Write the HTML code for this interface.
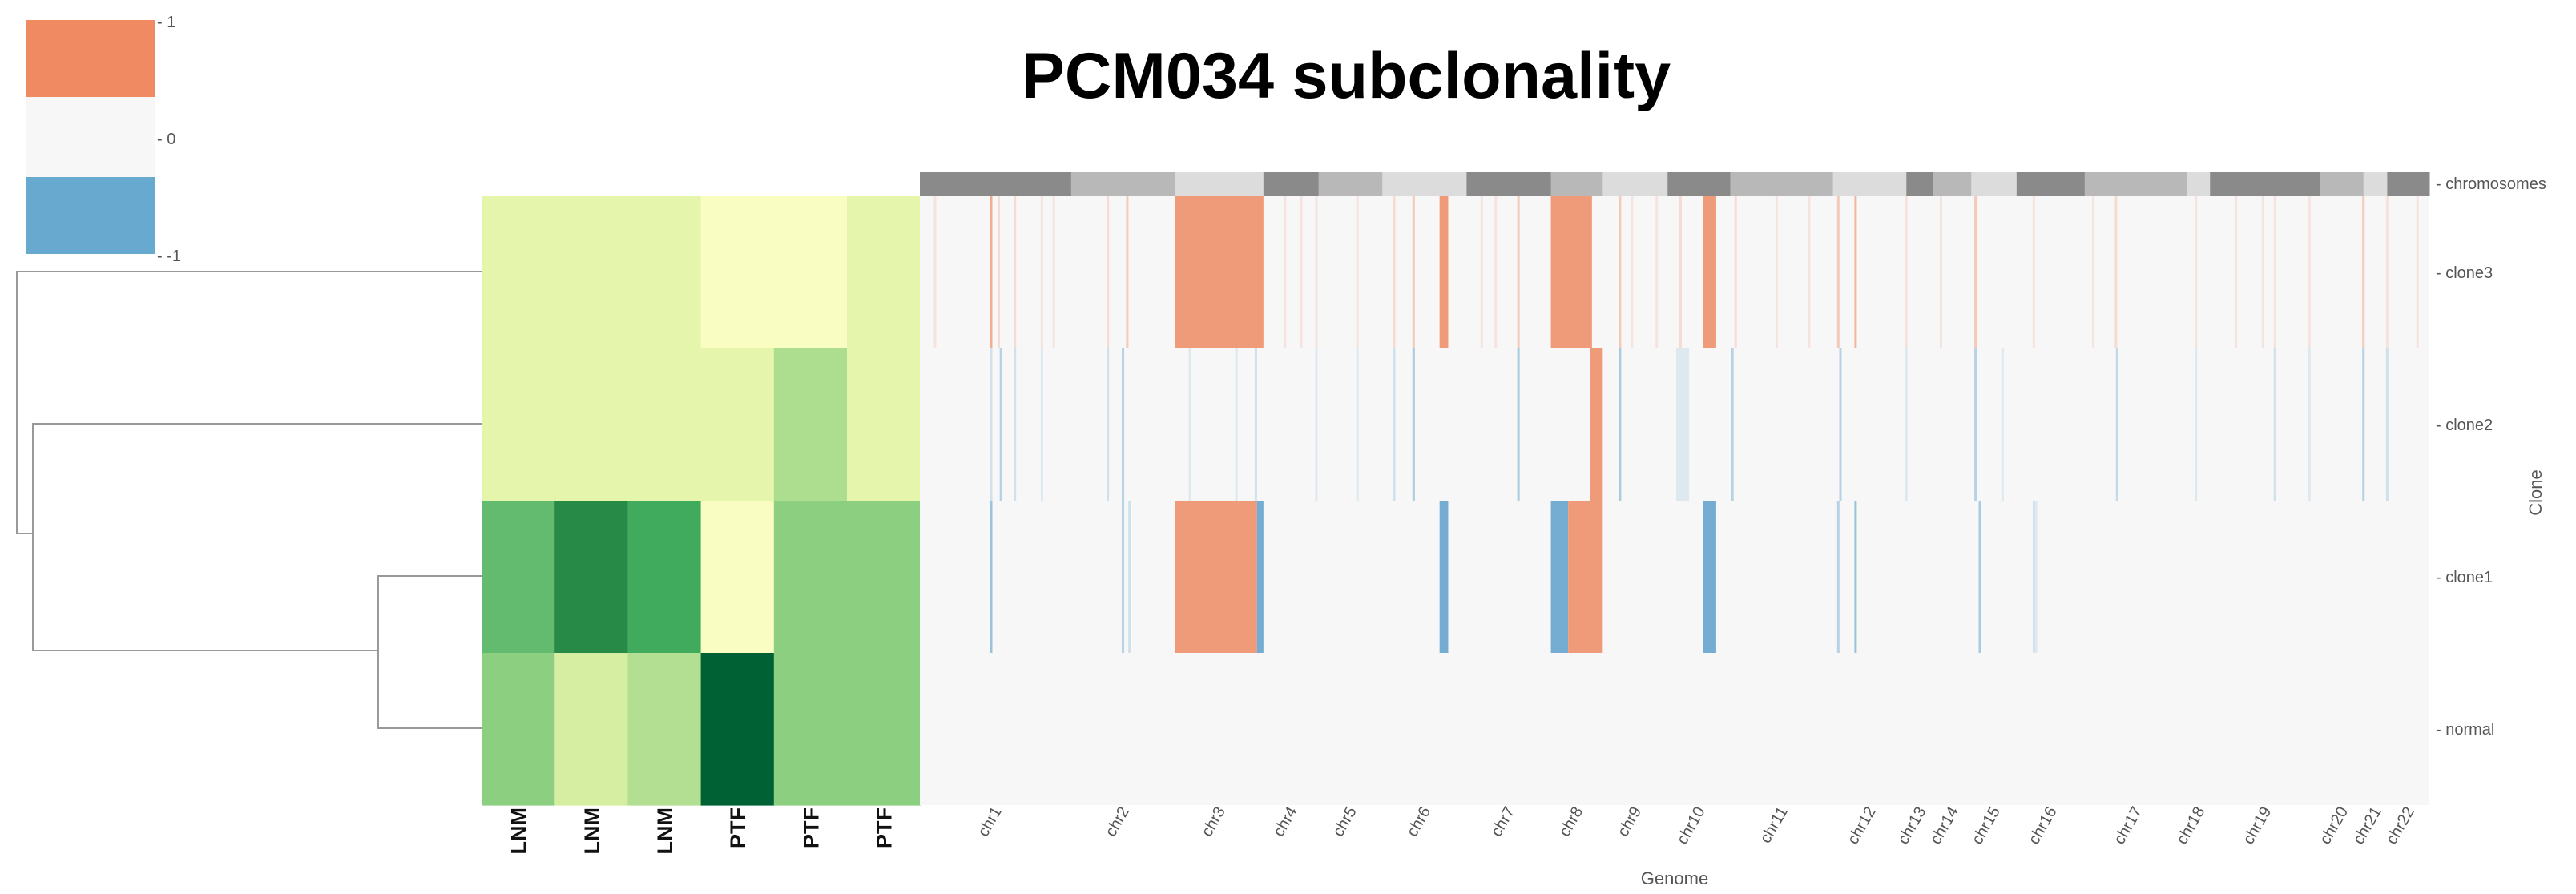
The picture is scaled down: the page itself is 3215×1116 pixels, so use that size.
<!DOCTYPE html>
<html><head><meta charset="utf-8">
<style>
html,body{margin:0;padding:0;background:#fff;}
svg{display:block;font-family:"Liberation Sans",sans-serif;}
</style></head>
<body>
<svg id="chart" width="3215" height="1116" viewBox="0 0 3215 1116">
<text x="1680" y="122" text-anchor="middle" font-size="81" font-weight="bold" fill="#000">PCM034 subclonality</text>
<g id="legend">
<rect x="33" y="25" width="161" height="96" fill="#ef8a62"/>
<rect x="33" y="121" width="161" height="100" fill="#f7f7f7"/>
<rect x="33" y="221" width="161" height="96" fill="#67a9cf"/>
<text x="196" y="34" font-size="20" fill="#555">- 1</text>
<text x="196" y="180" font-size="20" fill="#555">- 0</text>
<text x="196" y="326" font-size="20" fill="#555">- -1</text>
</g>
<g id="dendro" fill="none" stroke="#999" stroke-width="2">
<path d="M601 339 H21 V666 H41"/>
<path d="M601 529 H41 V812 H472"/>
<path d="M601 719 H472 V909 H601"/>
</g>
<g id="green"></g>
<g id="chroms"></g>
<g id="cnv"></g>
<g id="labels"></g>
<text x="2090" y="1104" text-anchor="middle" font-size="22" fill="#555">Genome</text>
<text transform="translate(3172,615) rotate(-90)" text-anchor="middle" font-size="22" fill="#555">Clone</text>
</svg>
<script>
const rowNames = ["clone3","clone2","clone1","normal"];
const sampleNames = ["LNM","LNM","LNM","PTF","PTF","PTF"];
const fracClone3 = [0.2,0.2,0.2,0.1,0.1,0.2];
const fracClone2 = [0.2,0.2,0.2,0.2,0.375,0.2];
const fracClone1 = [0.55,0.73,0.625,0.1,0.45,0.45];
const fracNormal = [0.45,0.26,0.36,0.9,0.45,0.45];
const chromNames = ["chr1","chr2","chr3","chr4","chr5","chr6","chr7","chr8","chr9","chr10","chr11","chr12","chr13","chr14","chr15","chr16","chr17","chr18","chr19","chr20","chr21","chr22"];
const chromStarts = [0,140,236,318,369,428,506,584,632,692,750,845,913,938,973,1015,1078,1173,1194,1296,1336,1358];
const genomeEnd = 1397;
// broad segments: [row, start, end, value]
const segRow = [0,0,0,0, 1, 2,2,2,2,2,2, 1];
const segStart = [236,481,584,725, 620, 236,312,481,584,600,725, 700];
const segEnd = [318,489,622,737, 632, 312,318,489,600,632,737, 712];
const segVal = [1,1,1,1, 1, 1,-1,-1,-1,1,-1, -0.2];
// narrow focal events: row, genome position, value
const lineRow = [0,0,0,0,0,0,0,0,0,0,0,0,0,0,0,0,0,0,0,0,0,0,0,0,0,0,0,0,0,0,0,0,0,0,0,0,0,0,0,0,
  1,1,1,1,1,1,1,1,1,1,1,1,1,1,1,1,1,1,1,1,1,1,1,1,1,1,
  2,2,2,2,2,2,2,2];
const linePos = [14,66,73,88,113,124,174,192,338,353,367,405,439,457,520,533,554,648,659,682,704,755,793,823,850,866,913,945,977,1031,1086,1107,1181,1218,1243,1254,1286,1336,1358,1386,
  66,75,88,113,174,188,250,293,311,367,405,439,457,554,648,752,852,913,977,1002,1108,1181,1254,1286,1336,1358,
  66,188,850,866,981,1031,1033,194];
const lineVal = [0.2,0.8,0.3,0.3,0.2,0.2,0.3,0.5,0.2,0.2,0.2,0.2,0.3,0.5,0.2,0.2,0.5,0.5,0.2,0.2,0.3,0.3,0.2,0.2,0.5,0.7,0.2,0.2,0.5,0.2,0.2,0.3,0.2,0.2,0.2,0.2,0.2,0.5,0.2,0.2,
  -0.3,-0.5,-0.3,-0.2,-0.3,-0.5,-0.2,-0.2,-0.3,-0.2,-0.2,-0.3,-0.6,-0.6,-0.6,-0.5,-0.5,-0.2,-0.5,-0.2,-0.4,-0.2,-0.3,-0.2,-0.5,-0.3,
  -0.7,-0.5,-0.5,-0.7,-0.6,-0.3,-0.2,-0.3];

const NS="http://www.w3.org/2000/svg";
function mk(tag,attrs,parent){const e=document.createElementNS(NS,tag);for(const k in attrs)e.setAttribute(k,attrs[k]);parent.appendChild(e);return e;}
const rowTop=245, rowH=190, gx0=601, colW=91.2, hx0=1148, hx1=3032, chromTop=215;
const xScale=g=>hx0+(g/genomeEnd)*(hx1-hx0);
const yScale=r=>rowTop+r*rowH;
const ylgn=[[255,255,229],[247,252,185],[217,240,163],[173,221,142],[120,198,121],[65,171,93],[35,132,67],[0,104,55],[0,69,41]];
function green(v){const t=Math.max(0,Math.min(1,v))*8;const i=Math.min(7,Math.floor(t));const f=t-i;const a=ylgn[i],b=ylgn[i+1];return `rgb(${a.map((c,k)=>Math.round(c+(b[k]-c)*f)).join(",")})`;}
function cnv(v){const base=[247,247,247];const tgt=v>0?[239,154,120]:[116,173,209];const f=Math.abs(v);return `rgb(${base.map((c,k)=>Math.round(c+(tgt[k]-c)*f)).join(",")})`;}

const G=document.getElementById("green");
[fracClone3,fracClone2,fracClone1,fracNormal].forEach((arr,r)=>{
  arr.forEach((v,c)=>{
    const el=mk("rect",{x:gx0+c*colW,y:yScale(r),width:colW+0.6,height:rowH+0.6,fill:green(v)},G);
    
    
  });
});
const C=document.getElementById("chroms");
const greys=["#8a8a8a","#b8b8b8","#dcdcdc"];
chromNames.forEach((n,i)=>{
  const s=chromStarts[i], e=i<chromStarts.length-1?chromStarts[i+1]:genomeEnd;
  const el=mk("rect",{x:xScale(s),y:chromTop,width:xScale(e)-xScale(s)+0.5,height:30,fill:greys[i%3]},C);
  
  
});
const V=document.getElementById("cnv");
const bg=mk("rect",{x:hx0,y:rowTop,width:hx1-hx0,height:rowH*4,fill:"#f7f7f7"},V);


linePos.forEach((p,i)=>{
  const el=mk("rect",{x:xScale(p)-1.5,y:yScale(lineRow[i]),width:3,height:rowH,fill:cnv(lineVal[i])},V);
  
  
});
segRow.forEach((r,i)=>{
  const el=mk("rect",{x:xScale(segStart[i]),y:yScale(r),width:Math.max(1.5,xScale(segEnd[i])-xScale(segStart[i])),height:rowH,fill:cnv(segVal[i])},V);
  
  
});
const L=document.getElementById("labels");
const t0=mk("text",{x:hx1+8,y:chromTop+21,"font-size":20,fill:"#555"},L);
t0.textContent="- chromosomes";


rowNames.forEach((n,r)=>{
  const t=mk("text",{x:hx1+8,y:yScale(r)+rowH/2+7,"font-size":20,fill:"#555"},L);
  t.textContent="- "+n;
  
  
});
sampleNames.forEach((n,c)=>{
  const cx=gx0+c*colW+colW/2+10;
  const t=mk("text",{transform:`translate(${cx},1008) rotate(-90)`,"text-anchor":"end","font-size":27,"font-weight":"bold",fill:"#111"},L);
  t.textContent=n;
  
  
});
chromNames.forEach((n,i)=>{
  const s=chromStarts[i], e=i<chromStarts.length-1?chromStarts[i+1]:genomeEnd;
  const cx=xScale((s+e)/2)+8;
  const t=mk("text",{transform:`translate(${cx},1012) rotate(-60)`,"text-anchor":"end","font-size":20,fill:"#555"},L);
  t.textContent=n;
  
  
});
</script>
</body></html>
